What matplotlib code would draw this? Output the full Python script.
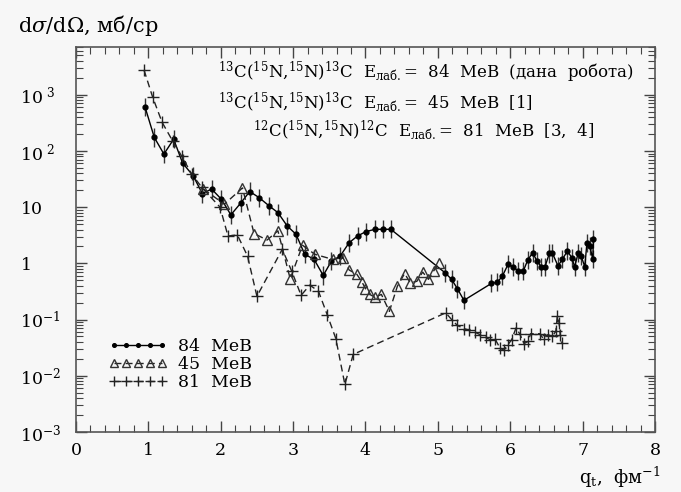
import numpy as np
import matplotlib.pyplot as plt
from matplotlib.ticker import LogLocator, MultipleLocator, NullFormatter

plt.rcParams['font.family'] = 'DejaVu Serif'
plt.rcParams['mathtext.fontset'] = 'dejavuserif'

# 13C(15N,15N)13C, 84 MeV (this work)
q84 = [0.953, 1.082, 1.215, 1.349, 1.473, 1.62, 1.745, 1.874, 2.01, 2.14,
       2.28, 2.40, 2.53, 2.67, 2.79, 2.92, 3.04, 3.16, 3.29, 3.416,
       3.53, 3.65, 3.775, 3.89, 4.005, 4.13, 4.24, 4.35, 5.10, 5.19,
       5.27, 5.36, 5.74, 5.82, 5.89, 5.97, 6.04, 6.11, 6.18, 6.24,
       6.31, 6.37, 6.43, 6.48, 6.54, 6.58, 6.66, 6.72, 6.79, 6.85,
       6.89, 6.94, 6.98, 7.03, 7.06, 7.10, 7.14, 7.15]
y84 = [611, 174, 88, 162, 61, 36, 17.5, 21, 13.8, 7.3,
       12, 19, 14.8, 10.5, 8, 4.6, 3.3, 1.45, 1.18, 0.61,
       1.1, 1.35, 2.34, 3.07, 3.67, 4.04, 4.04, 4.04, 0.68, 0.52,
       0.354, 0.22, 0.44, 0.46, 0.59, 0.96, 0.87, 0.73, 0.73, 1.13,
       1.55, 1.1, 0.87, 0.87, 1.5, 1.55, 0.9, 1.18, 1.66, 1.26,
       0.87, 1.55, 1.35, 0.87, 2.34, 2.03, 1.18, 2.68]
err84 = 1.45  # error bar factor (up / down)

# 13C(15N,15N)13C, 45 MeV [1]
q45 = [1.76, 2.05, 2.30, 2.46, 2.64, 2.79, 2.96, 3.13, 3.30, 3.545,
       3.69, 3.775, 3.88, 3.95, 4.0, 4.06, 4.13, 4.22, 4.33, 4.44,
       4.54, 4.62, 4.71, 4.79, 4.87, 4.94, 5.02]
y45 = [21, 11.3, 22, 3.4, 2.6, 3.8, 0.53, 2.1, 1.45, 1.18,
       1.26, 0.76, 0.64, 0.47, 0.355, 0.28, 0.25, 0.28, 0.14, 0.39,
       0.66, 0.45, 0.48, 0.70, 0.52, 0.73, 1.0]

# 12C(15N,15N)12C, 81 MeV [3, 4]
q81 = [0.94, 1.06, 1.19, 1.335, 1.46, 1.60, 1.74, 1.99, 2.10, 2.23,
       2.37, 2.50, 2.85, 2.98, 3.11, 3.23, 3.35, 3.47, 3.59, 3.715,
       3.83, 5.11, 5.19, 5.27, 5.36, 5.43, 5.51, 5.58, 5.66, 5.72,
       5.79, 5.86, 5.91, 5.97, 6.02, 6.08, 6.13, 6.19, 6.25, 6.28,
       6.41, 6.46, 6.52, 6.58, 6.63, 6.65, 6.675, 6.69, 6.71]
y81 = [2750, 900, 323, 151, 81, 38.6, 22.4, 10, 3.07, 3.2,
       1.35, 0.26, 1.78, 0.73, 0.27, 0.41, 0.32, 0.123, 0.046, 0.007,
       0.024, 0.132, 0.10, 0.0785, 0.069, 0.065, 0.06, 0.054, 0.048, 0.044,
       0.045, 0.031, 0.0285, 0.036, 0.044, 0.071, 0.056, 0.0375, 0.041, 0.056,
       0.056, 0.045, 0.054, 0.05, 0.062, 0.115, 0.088, 0.054, 0.0386]

ytick_vals = [1e-3, 1e-2, 1e-1, 1, 10, 100, 1000]
ytick_labels = [r'$10^{-3}$', r'$10^{-2}$', r'$10^{-1}$', '1', '10',
                r'$10^{\ 2}$', r'$10^{\ 3}$']

BG = '#f7f7f7'
dash = (0, (5, 3))

fig = plt.figure(figsize=(6.81, 4.92), dpi=100, facecolor=BG)
ax = fig.add_axes([0.1116, 0.122, 0.8502, 0.7819])
ax.set_facecolor(BG)
ax.set_yscale('log')
ax.set_xlim(0, 8)
ax.set_ylim(1e-3, 7e3)

y84a = np.array(y84)
ax.errorbar(q84, y84a, yerr=[y84a - y84a / err84, y84a * err84 - y84a],
            fmt='none', ecolor='#333333', elinewidth=1, capsize=0)
ax.plot(q84, y84, '-', color='k', lw=1, marker='o', ms=3.5,
        label='84  МеВ')
ax.plot(q45, y45, color='#222222', lw=1, ls=dash, marker='^', ms=7,
        mfc='none', mec='#333333', mew=1, label='45  МеВ')
ax.plot(q81, y81, color='#222222', lw=1, ls=dash, marker='+', ms=9,
        mew=1, label='81  МеВ')

# ticks
ax.xaxis.set_major_locator(MultipleLocator(1))
ax.xaxis.set_minor_locator(MultipleLocator(0.2))
ax.set_yticks(ytick_vals)
ax.set_yticklabels(ytick_labels, ha='left')
ax.yaxis.set_minor_locator(LogLocator(base=10, subs=np.arange(2, 10), numticks=20))
ax.yaxis.set_minor_formatter(NullFormatter())
ax.tick_params(which='both', direction='in', top=True, right=True,
               color='#444444', labelsize=12.5)
ax.tick_params(which='major', length=8, width=1)
ax.tick_params(which='minor', length=5, width=0.8)
ax.tick_params(axis='y', which='major', pad=40)
ax.tick_params(axis='x', which='major', pad=7)
for s in ax.spines.values():
    s.set_color('#555555')
    s.set_linewidth(1.2)

# annotations
fs = 12
ax.text(0.245, 0.936, r'$^{13}$C($^{15}$N,$^{15}$N)$^{13}$C  E$_{\mathrm{лаб.}}$=  84  МеВ  (дана  робота)',
        transform=ax.transAxes, fontsize=fs, ha='left', va='center')
ax.text(0.245, 0.858, r'$^{13}$C($^{15}$N,$^{15}$N)$^{13}$C  E$_{\mathrm{лаб.}}$=  45  МеВ  [1]',
        transform=ax.transAxes, fontsize=fs, ha='left', va='center')
ax.text(0.306, 0.785, r'$^{12}$C($^{15}$N,$^{15}$N)$^{12}$C  E$_{\mathrm{лаб.}}$=  81  МеВ  [3,  4]',
        transform=ax.transAxes, fontsize=fs, ha='left', va='center')

ax.legend(loc='upper left', bbox_to_anchor=(0.035, 0.275), frameon=False,
          numpoints=5, markerscale=0.75, handlelength=3.4, handletextpad=0.6,
          fontsize=12.5, labelspacing=0.05, borderpad=0.2)

fig.text(18 / 681, 1 - 25 / 492, r'd$\sigma$/d$\Omega$, мб/ср', fontsize=15,
         ha='left', va='center')
fig.text(660 / 681, 2 / 492, r'q$_{\mathrm{t}}$,  фм$^{-1}$', fontsize=13,
         ha='right', va='bottom')

fig.savefig('out.png', dpi=100, facecolor=BG)
